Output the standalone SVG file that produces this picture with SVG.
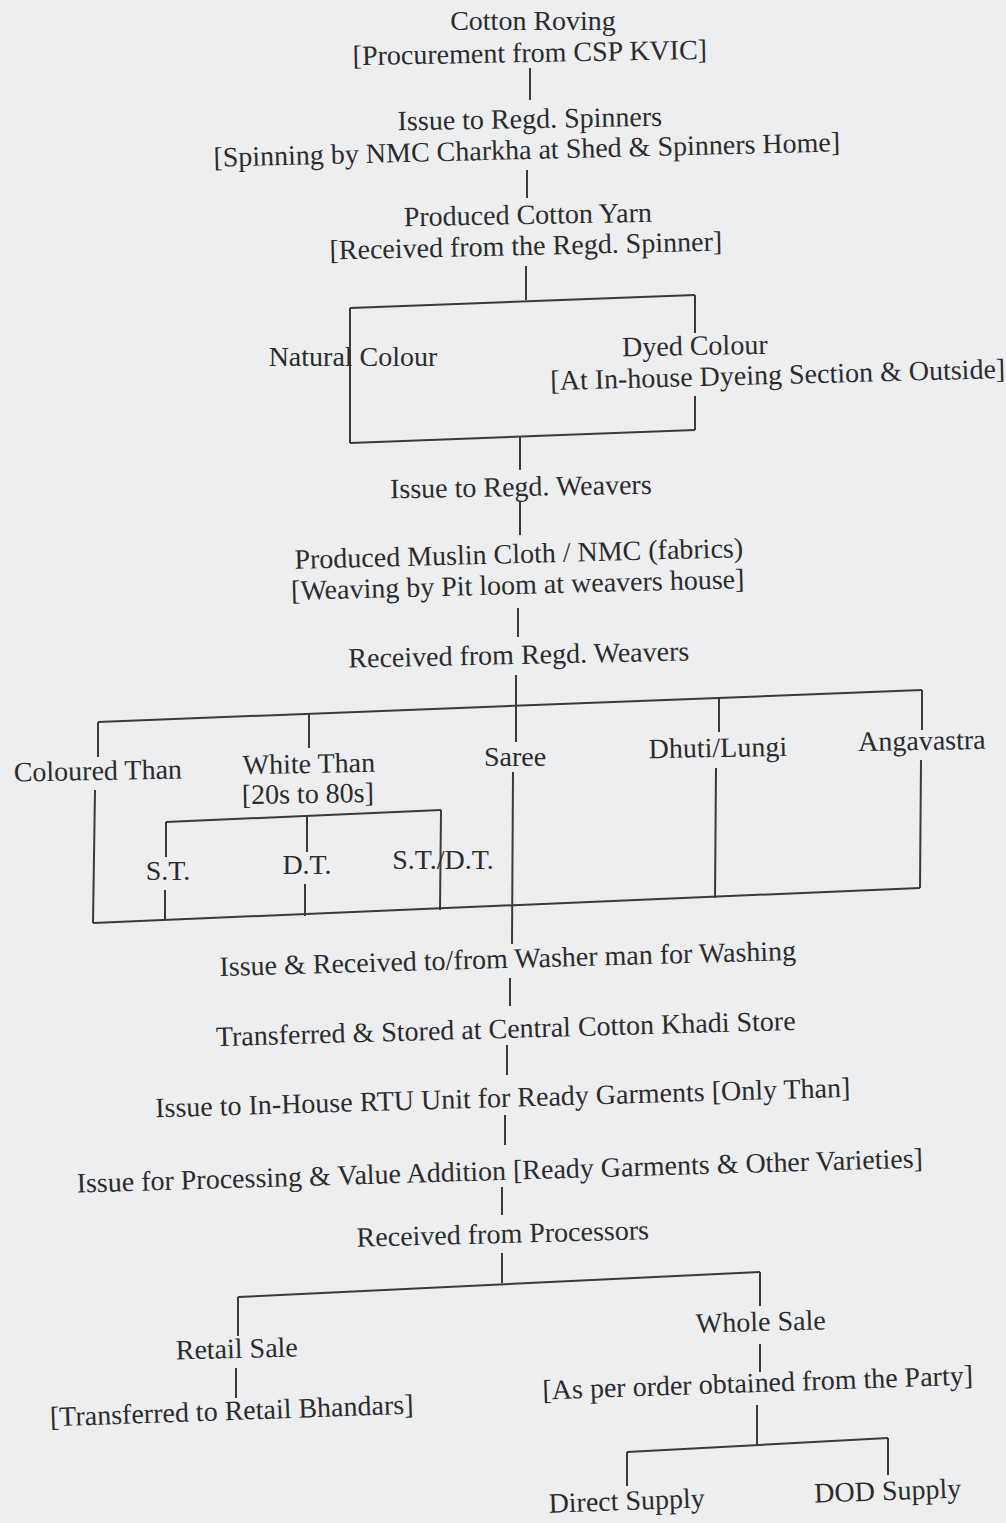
<svg xmlns="http://www.w3.org/2000/svg" width="1006" height="1523" viewBox="0 0 1006 1523">
<style>
text{font-family:"Liberation Serif","Times New Roman",serif;font-size:28px;fill:#2b2b2b;text-anchor:middle}
.c line{stroke:#3a3a3a;stroke-width:2;fill:none}
</style>
<rect width="1006" height="1523" fill="#eceef0"/>
<g class="c" id="connectors">
<line x1="530" y1="68" x2="530" y2="100"/>
<line x1="527" y1="170" x2="527" y2="198"/>
<line x1="526" y1="266" x2="526" y2="300"/>
<line x1="350" y1="308" x2="695" y2="295"/>
<line x1="350" y1="308" x2="350" y2="443"/>
<line x1="695" y1="295" x2="695" y2="333"/>
<line x1="695" y1="396" x2="695" y2="430"/>
<line x1="350" y1="443" x2="695" y2="430"/>
<line x1="520" y1="437" x2="520" y2="470"/>
<line x1="520" y1="502" x2="520" y2="535"/>
<line x1="518" y1="608" x2="518" y2="637"/>
<line x1="516" y1="675" x2="516" y2="742"/>
<line x1="98" y1="722" x2="922" y2="690"/>
<line x1="98" y1="722" x2="98" y2="757"/>
<line x1="95" y1="790" x2="93" y2="923"/>
<line x1="309" y1="714" x2="309" y2="748"/>
<line x1="719" y1="698" x2="719" y2="732"/>
<line x1="716" y1="768" x2="715" y2="898"/>
<line x1="922" y1="690" x2="922" y2="730"/>
<line x1="921" y1="760" x2="920" y2="888"/>
<line x1="93" y1="923" x2="920" y2="888"/>
<line x1="513" y1="772" x2="512" y2="944"/>
<line x1="166" y1="822" x2="441" y2="810"/>
<line x1="166" y1="822" x2="166" y2="857"/>
<line x1="165" y1="890" x2="165" y2="920"/>
<line x1="307" y1="816" x2="307" y2="852"/>
<line x1="305" y1="884" x2="305" y2="916"/>
<line x1="441" y1="810" x2="440" y2="910"/>
<line x1="510" y1="978" x2="510" y2="1006"/>
<line x1="507" y1="1045" x2="507" y2="1075"/>
<line x1="505" y1="1115" x2="505" y2="1145"/>
<line x1="502" y1="1187" x2="502" y2="1215"/>
<line x1="502" y1="1253" x2="502" y2="1283"/>
<line x1="238" y1="1297" x2="760" y2="1272"/>
<line x1="238" y1="1297" x2="238" y2="1336"/>
<line x1="760" y1="1272" x2="760" y2="1306"/>
<line x1="236" y1="1368" x2="236" y2="1398"/>
<line x1="760" y1="1344" x2="760" y2="1372"/>
<line x1="757" y1="1405" x2="757" y2="1445"/>
<line x1="627" y1="1452" x2="888" y2="1438"/>
<line x1="627" y1="1452" x2="627" y2="1486"/>
<line x1="888" y1="1438" x2="888" y2="1475"/>
</g>
<g id="n1"><text x="533" y="30">Cotton Roving</text><text x="530" y="62" transform="rotate(-1 530 62)">[Procurement from CSP KVIC]</text></g>
<g id="n2"><text x="530" y="128" transform="rotate(-1 530 128)">Issue to Regd. Spinners</text><text x="527" y="159" transform="rotate(-1.4 527 159)">[Spinning by NMC Charkha at Shed &amp; Spinners Home]</text></g>
<g id="n3"><text x="528" y="224" transform="rotate(-1 528 224)">Produced Cotton Yarn</text><text x="526" y="255" transform="rotate(-1.3 526 255)">[Received from the Regd. Spinner]</text></g>
<g id="n4"><text x="353" y="366">Natural Colour</text></g>
<g id="n5"><text x="695" y="355" transform="rotate(-1 695 355)">Dyed Colour</text><text x="778" y="384" transform="rotate(-1.5 778 384)">[At In-house Dyeing Section &amp; Outside]</text></g>
<g id="n6"><text x="521" y="496" transform="rotate(-1 521 496)">Issue to Regd. Weavers</text></g>
<g id="n7"><text x="519" y="563" transform="rotate(-1.5 519 563)">Produced Muslin Cloth / NMC (fabrics)</text><text x="518" y="594" transform="rotate(-1.5 518 594)">[Weaving by Pit loom at weavers house]</text></g>
<g id="n8"><text x="519" y="664" transform="rotate(-1.2 519 664)">Received from Regd. Weavers</text></g>
<g id="n9"><text x="98" y="780" transform="rotate(-1 98 780)">Coloured Than</text></g>
<g id="n10"><text x="309" y="773" transform="rotate(-1 309 773)">White Than</text><text x="308" y="803" transform="rotate(-1 308 803)">[20s to 80s]</text></g>
<g id="n11"><text x="515" y="766">Saree</text></g>
<g id="n12"><text x="718" y="757" transform="rotate(-1 718 757)">Dhuti/Lungi</text></g>
<g id="n13"><text x="922" y="750" transform="rotate(-1 922 750)">Angavastra</text></g>
<g id="n14"><text x="168" y="880">S.T.</text></g>
<g id="n15"><text x="307" y="874">D.T.</text></g>
<g id="n16"><text x="443" y="869">S.T./D.T.</text></g>
<g id="n17"><text x="508" y="968" transform="rotate(-1.6 508 968)">Issue &amp; Received to/from Washer man for Washing</text></g>
<g id="n18"><text x="506" y="1038" transform="rotate(-1.6 506 1038)">Transferred &amp; Stored at Central Cotton Khadi  Store</text></g>
<g id="n19"><text x="503" y="1107" transform="rotate(-1.7 503 1107)">Issue to In-House RTU Unit for Ready Garments [Only Than]</text></g>
<g id="n20"><text x="500" y="1180" transform="rotate(-1.7 500 1180)">Issue for Processing &amp; Value Addition [Ready Garments &amp; Other Varieties]</text></g>
<g id="n21"><text x="503" y="1243" transform="rotate(-1.5 503 1243)">Received from Processors</text></g>
<g id="n22"><text x="237" y="1358" transform="rotate(-1.5 237 1358)">Retail Sale</text><text x="232" y="1420" transform="rotate(-2 232 1420)">[Transferred to Retail Bhandars]</text></g>
<g id="n23"><text x="761" y="1331" transform="rotate(-1.5 761 1331)">Whole Sale</text><text x="758" y="1392" transform="rotate(-2 758 1392)">[As per order obtained from the Party]</text></g>
<g id="n24"><text x="627" y="1510" transform="rotate(-2 627 1510)">Direct Supply</text></g>
<g id="n25"><text x="888" y="1500" transform="rotate(-2 888 1500)">DOD Supply</text></g>
</svg>
